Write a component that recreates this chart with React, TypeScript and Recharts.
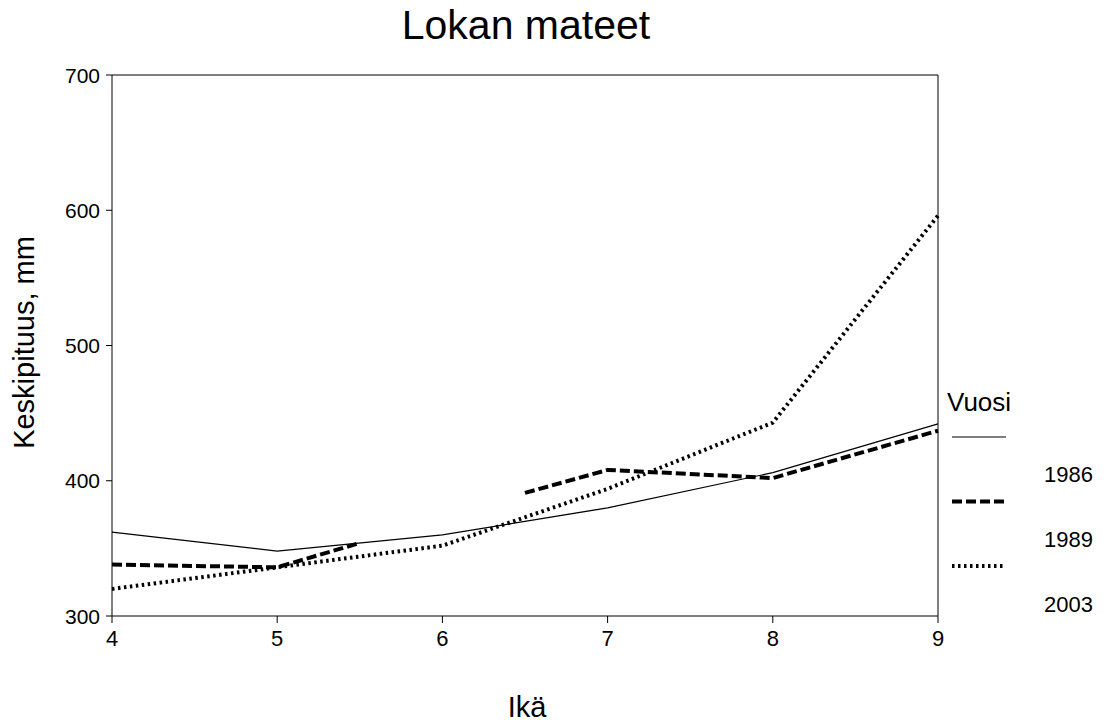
import React from 'react';
import { LineChart, Line, XAxis, YAxis, ReferenceLine, Label } from 'recharts';

const ages = [4, 5, 6, 7, 8, 9];
const len1986 = [362, 348, 360, 380, 406, 442];
const ages1989 = [4, 5, 5.5, 6, 6.5, 7, 8, 9];
const len1989 = [338, 336, 354, null, 391, 408, 402, 437];
const len2003 = [320, 336, 352, 394, 443, 596];
const xTicks = [4, 5, 6, 7, 8, 9];
const yTicks = [300, 400, 500, 600, 700];
const seriesNames = ['1986', '1989', '2003'];
const title = 'Lokan mateet';
const xTitle = 'Ikä';
const yTitle = 'Keskipituus, mm';
const legendTitle = 'Vuosi';

const data1986 = ages.map((a, i) => ({ age: a, value: len1986[i] }));
const data1989 = ages1989.map((a, i) => ({ age: a, value: len1989[i] }));
const data2003 = ages.map((a, i) => ({ age: a, value: len2003[i] }));

const FONT = '"Liberation Sans", Arial, sans-serif';
const styles = [
  { strokeWidth: 1.2, dash: undefined as string | undefined },
  { strokeWidth: 4, dash: '10 4' },
  { strokeWidth: 4, dash: '2.5 3.5' },
];

const XTick = (props: any) => {
  const { x, y, payload } = props;
  return (
    <text x={x} y={y} dy={16} textAnchor="middle" fontSize={22} fontFamily={FONT} fill="#000">
      {payload.value}
    </text>
  );
};

const YTick = (props: any) => {
  const { x, y, payload } = props;
  return (
    <text x={x} y={y} dy={7.5} textAnchor="end" fontSize={21} fontFamily={FONT} fill="#000">
      {payload.value}
    </text>
  );
};

export default function App() {
  return (
    <div style={{ position: 'absolute', left: 0, top: 0, width: 1112, height: 722, background: '#fff', fontFamily: FONT }}>
      <LineChart width={1112} height={722} margin={{ top: 75, right: 174, bottom: 0, left: 0 }}>
        <XAxis
          type="number"
          dataKey="age"
          domain={[4, 9]}
          ticks={xTicks}
          allowDuplicatedCategory={false}
          height={106}
          tickSize={7}
          tickMargin={7}
          stroke="#000"
          tick={<XTick />}
        >
          <Label
            content={(props: any) => {
              const vb = props.viewBox || { x: 112, y: 616, width: 826, height: 106 };
              return (
                <text x={527} y={vb.y + 101} textAnchor="middle" fontSize={29} fontFamily={FONT} fill="#000">
                  {xTitle}
                </text>
              );
            }}
          />
        </XAxis>
        <YAxis
          type="number"
          domain={[300, 700]}
          ticks={yTicks}
          width={112}
          tickSize={6}
          tickMargin={6}
          stroke="#000"
          tick={<YTick />}
        >
          <Label
            content={(props: any) => {
              const vb = props.viewBox || { x: 0, y: 75, width: 112, height: 541 };
              const cx = vb.x + 34;
              const cy = vb.y + vb.height / 2 - 3;
              return (
                <text
                  x={cx}
                  y={cy}
                  transform={`rotate(-90 ${cx} ${cy})`}
                  textAnchor="middle"
                  fontSize={29}
                  fontFamily={FONT}
                  fill="#000"
                >
                  {yTitle}
                </text>
              );
            }}
          />
        </YAxis>
        <ReferenceLine y={700} stroke="#000" strokeWidth={1} />
        <ReferenceLine x={9} stroke="#000" strokeWidth={1} />
        <Line
          data={data1986}
          dataKey="value"
          name={seriesNames[0]}
          stroke="#000"
          strokeWidth={styles[0].strokeWidth}
          dot={false}
          activeDot={false}
          isAnimationActive={false}
        />
        <Line
          data={data1989}
          dataKey="value"
          name={seriesNames[1]}
          stroke="#000"
          strokeWidth={styles[1].strokeWidth}
          strokeDasharray={styles[1].dash}
          dot={false}
          activeDot={false}
          connectNulls={false}
          isAnimationActive={false}
        />
        <Line
          data={data2003}
          dataKey="value"
          name={seriesNames[2]}
          stroke="#000"
          strokeWidth={styles[2].strokeWidth}
          strokeDasharray={styles[2].dash}
          dot={false}
          activeDot={false}
          isAnimationActive={false}
        />
      </LineChart>
      <svg
        width={1112}
        height={722}
        style={{ position: 'absolute', left: 0, top: 0, pointerEvents: 'none' }}
      >
        <text x={526} y={39} textAnchor="middle" fontSize={41} fontFamily={FONT} fill="#000">
          {title}
        </text>
        <text x={947} y={411} fontSize={26} fontFamily={FONT} fill="#000">
          {legendTitle}
        </text>
        {seriesNames.map((name, i) => (
          <g key={name}>
            <line
              x1={952}
              x2={1006}
              y1={437 + i * 64.5}
              y2={437 + i * 64.5}
              stroke="#000"
              strokeWidth={styles[i].strokeWidth}
              strokeDasharray={styles[i].dash}
            />
            <text x={1093} y={481.5 + i * 65} textAnchor="end" fontSize={22} fontFamily={FONT} fill="#000">
              {name}
            </text>
          </g>
        ))}
      </svg>
    </div>
  );
}
